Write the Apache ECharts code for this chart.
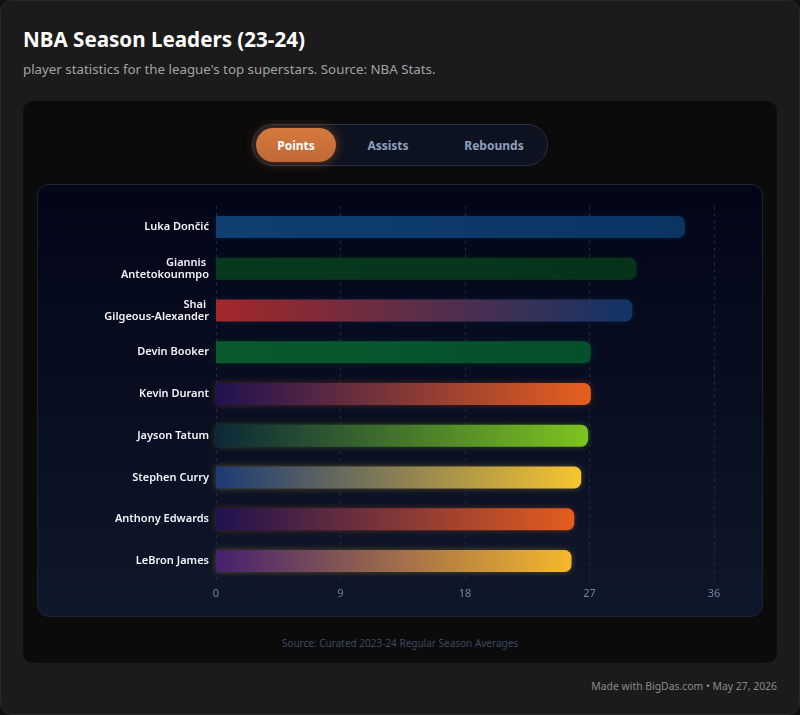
<!DOCTYPE html>
<html>
<head>
<meta charset="utf-8">
<script src="https://cdn.jsdelivr.net/npm/echarts@6/dist/echarts.min.js"></script>
<style>
  html, body { margin: 0; padding: 0; background: #111; }
  body { width: 800px; height: 715px; position: relative; overflow: hidden; font-family: 'Noto Sans', 'Open Sans', sans-serif; }
  .card { position: absolute; left: 0; top: 0; width: 798px; height: 713px; background: #1b1b1b; border: 1px solid #2a2a2a; border-radius: 12px; }
  .title { position: absolute; left: 23px; top: 25px; color: #fff; font-size: 20.6px; font-weight: 700; }
  .sub { position: absolute; left: 23px; top: 60px; color: #a3a3a3; font-size: 13.3px; }
  .panel { position: absolute; left: 23px; top: 101px; width: 754px; height: 562px; background: #0b0b0b; border-radius: 10px; }
  .tabs { position: absolute; left: 252px; top: 124px; width: 294px; height: 40px; background: #0d1220; border: 1px solid #263041; border-radius: 21px; }
  .tab { position: absolute; top: 4px; height: 34px; line-height: 34px; text-align: center; font-size: 12px; font-weight: 700; color: #8ea0bb; border-radius: 17px; }
  .tab.on { left: 3px; top: 3px; width: 80px; color: #fff; background: linear-gradient(180deg, #d67a3e, #bf6936); box-shadow: 0 0 12px rgba(230,120,50,0.45); }
  .tab.on span { position: relative; top: 1px; }
  .box { position: absolute; left: 37px; top: 184px; width: 724px; height: 431px; border: 1px solid #1c2536; border-radius: 12px; background: linear-gradient(180deg, #020617, #0f172a); }
  #chart { position: absolute; left: 37px; top: 184px; width: 726px; height: 433px; }
  .src { position: absolute; left: 0; width: 800px; top: 636px; text-align: center; color: #3a4a62; font-size: 10px; }
  .foot { position: absolute; right: 23px; top: 679px; color: #8a8a8a; font-size: 10.4px; }
</style>
</head>
<body>
<div class="card"></div>
<div class="title">NBA Season Leaders (23-24)</div>
<div class="sub">player statistics for the league's top superstars. Source: NBA Stats.</div>
<div class="panel"></div>
<div class="tabs">
  <div class="tab on"><span>Points</span></div>
  <div class="tab" style="left:100px;width:70px">Assists</div>
  <div class="tab" style="left:196px;width:90px">Rebounds</div>
</div>
<div class="box"></div>
<div id="chart"></div>
<div class="src">Source: Curated 2023-24 Regular Season Averages</div>
<div class="foot">Made with BigDas.com • May 27, 2026</div>
<script>
const players = ['Luka Dončić', 'Giannis Antetokounmpo', 'Shai Gilgeous-Alexander', 'Devin Booker', 'Kevin Durant', 'Jayson Tatum', 'Stephen Curry', 'Anthony Edwards', 'LeBron James']
const points = [33.9, 30.4, 30.1, 27.1, 27.1, 26.9, 26.4, 25.9, 25.7]
const startColors = ['#0f3f70', '#073a1d', '#a3282a', '#0a5a2e', '#1f1150', '#0c2838', '#1c3a74', '#1f1150', '#45206e']
const endColors = ['#0a3563', '#05331a', '#123468', '#04502a', '#e85f1e', '#7dc41f', '#f7c531', '#e55d1e', '#f7b82a']
const xTicks = [0, 9, 18, 27, 36]

const chart = echarts.init(document.getElementById('chart'))

const barData = points.map((v, i) => ({
  value: v,
  itemStyle: {
    color: new echarts.graphic.LinearGradient(0, 0, 1, 0, [
      { offset: 0, color: startColors[i] },
      { offset: 1, color: endColors[i] }
    ]),
    shadowColor: endColors[i] + '55',
    shadowBlur: 6
  }
}))

chart.setOption({
  animation: false,
  grid: { left: 179, right: 49, top: 22, bottom: 35 },
  xAxis: {
    type: 'value',
    min: xTicks[0],
    max: xTicks[xTicks.length - 1],
    interval: 9,
    axisLine: { show: false },
    axisTick: { show: false },
    axisLabel: { color: '#7184a3', fontSize: 11, margin: 6, fontFamily: 'Noto Sans' },
    splitLine: { lineStyle: { color: '#222d42', type: [3, 4] } }
  },
  yAxis: {
    type: 'category',
    data: players,
    inverse: true,
    axisLine: { show: false },
    axisTick: { show: false },
    axisLabel: {
      color: '#f1f5f9',
      fontSize: 11,
      fontWeight: 600,
      fontFamily: 'Noto Sans',
      margin: 7,
      width: 112,
      overflow: 'break',
      lineHeight: 12,
      align: 'right'
    }
  },
  series: [{
    type: 'bar',
    data: barData,
    barWidth: 22,
    itemStyle: { borderRadius: [0, 7, 7, 0] }
  }]
})
</script>
</body>
</html>
